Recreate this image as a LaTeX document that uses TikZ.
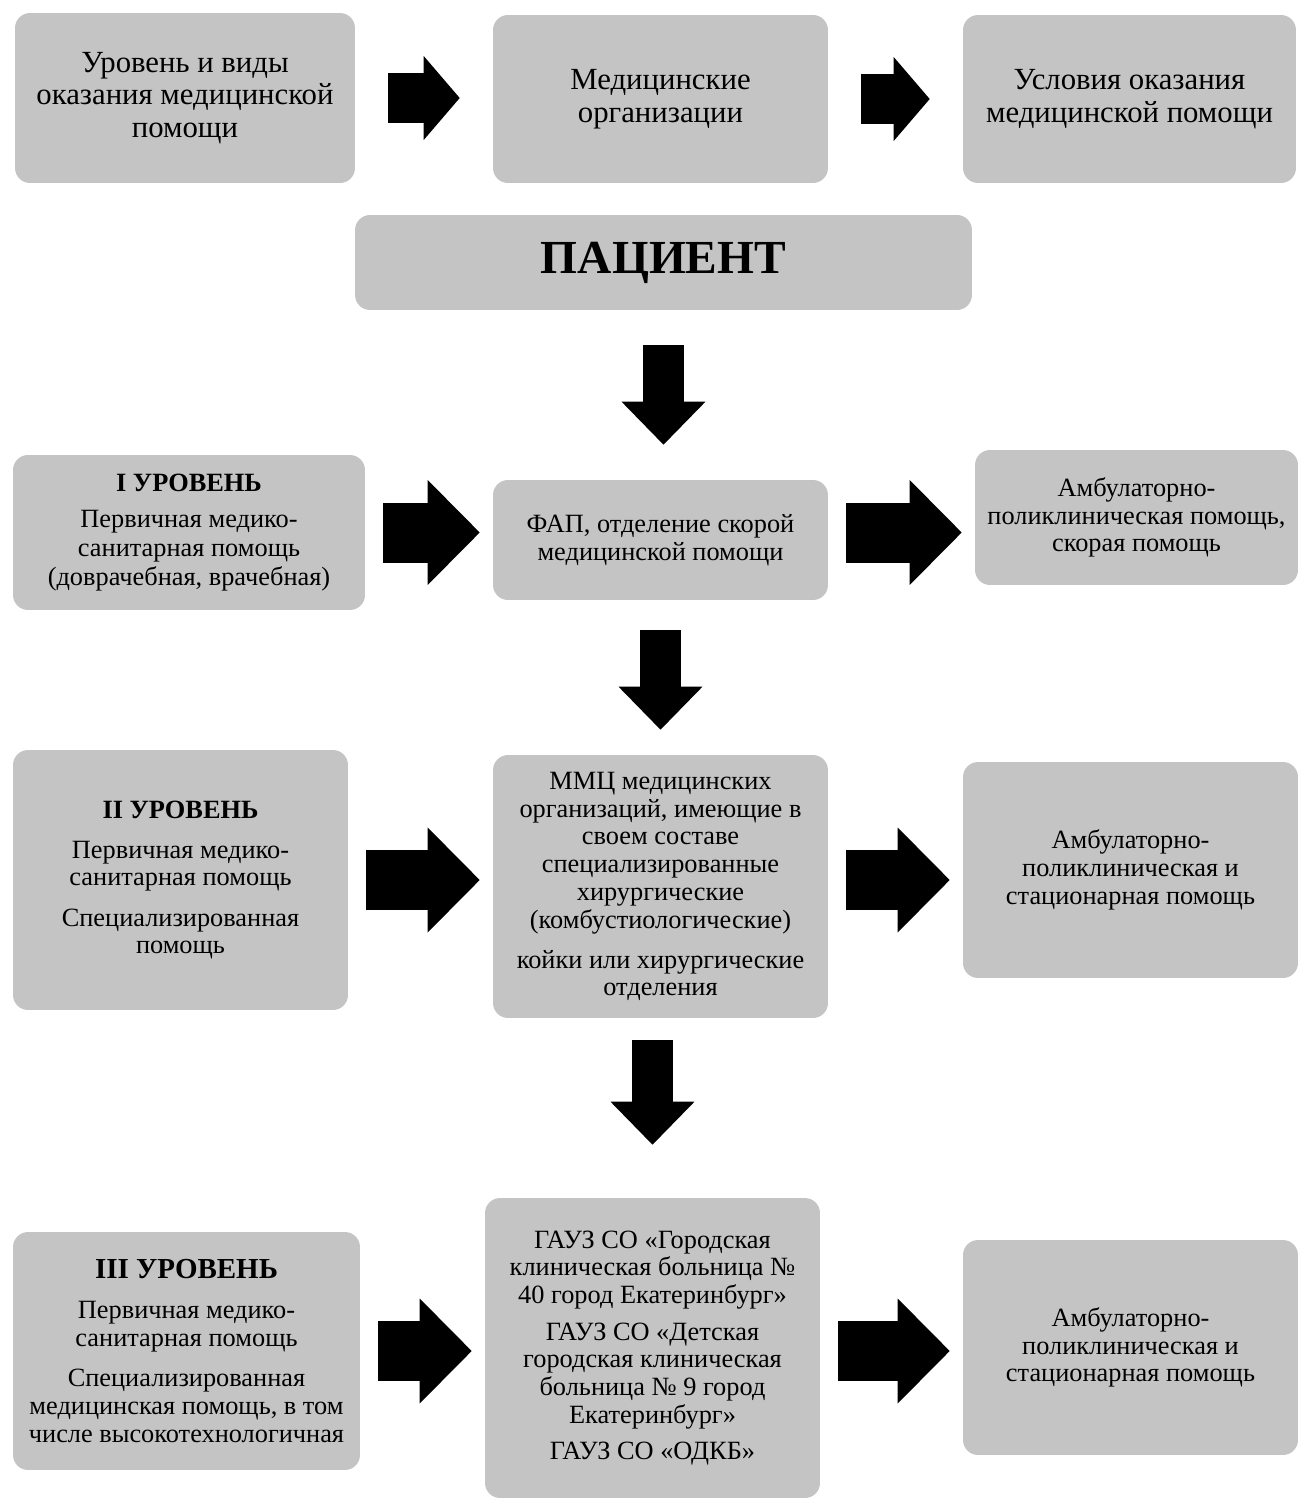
\documentclass[tikz,border=0pt]{standalone}
\usepackage{fontspec}
\setmainfont{Liberation Serif}
\usetikzlibrary{arrows.meta, calc, positioning}
\definecolor{boxgray}{RGB}{196,196,196}

\begin{document}
\begin{tikzpicture}[x=0.02cm, y=-0.02cm,
box/.style={rectangle, rounded corners=0.3cm, fill=boxgray, align=center, inner sep=0pt, font=\fontsize{15}{15.8}\selectfont},
hdr/.style={box, font=\fontsize{17.5}{18.5}\selectfont},
flowtop/.style={line width=1cm, -{Triangle[length=0.72cm, width=1.68cm, line width=0pt]}, shorten <=0.66cm, shorten >=0.66cm},
flowrow/.style={line width=1.2cm, -{Triangle[length=1.04cm, width=2.1cm, line width=0pt]}, shorten <=0.36cm, shorten >=0.26cm},
flowdown/.style={line width=0.82cm, -{Triangle[length=0.86cm, width=1.68cm, line width=0pt]}, shorten <=0.7cm, shorten >=0.7cm}]

\useasboundingbox (0, 0) rectangle (1298, 1498);

\node[hdr, minimum width=6.8cm, minimum height=3.4cm]
(lvl) at (185, 98)
{Уровень и виды\\оказания медицинской\\помощи};

\node[hdr, minimum width=6.7cm, minimum height=3.36cm]
(org) at (660.5, 99)
{Медицинские\\организации};

\node[hdr, minimum width=6.66cm, minimum height=3.36cm]
(cond) at (1129.5, 99)
{Условия оказания\\медицинской помощи};

\node[box, minimum width=12.34cm, minimum height=1.9cm, font=\fontsize{27}{30}\selectfont\bfseries]
(pat) at (663.5, 262.5)
{ПАЦИЕНТ};

\node[box, minimum width=7.04cm, minimum height=3.1cm, font=\fontsize{15}{16.5}\selectfont]
(lvlA) at (189, 532.5)
{\textbf{I УРОВЕНЬ}\\[4pt]Первичная медико-\\санитарная помощь\\(доврачебная, врачебная)};

\node[box, minimum width=6.7cm, minimum height=2.4cm]
(fap) at (660.5, 540)
{ФАП, отделение скорой\\медицинской помощи};

\node[box, minimum width=6.46cm, minimum height=2.7cm]
(ambA) at (1136.5, 517.5)
{Амбулаторно-\\поликлиническая помощь,\\скорая помощь};

\node[box, minimum width=6.7cm, minimum height=5.2cm]
(lvlB) at (180.5, 880)
{\textbf{II УРОВЕНЬ}\\[7pt]Первичная медико-\\санитарная помощь\\[7pt]Специализированная\\помощь};

\node[box, minimum width=6.7cm, minimum height=5.26cm]
(mmc) at (660.5, 886.5)
{ММЦ медицинских\\организаций, имеющие в\\своем составе\\специализированные\\хирургические\\(комбустиологические)\\[7pt]койки или хирургические\\отделения};

\node[box, minimum width=6.7cm, minimum height=4.32cm]
(ambB) at (1130.5, 870)
{Амбулаторно-\\поликлиническая и\\стационарная помощь};

\node[box, minimum width=6.94cm, minimum height=4.76cm]
(lvlC) at (186.5, 1351)
{{\fontsize{16.5}{18}\selectfont\bfseries III УРОВЕНЬ}\\[7pt]Первичная медико-\\санитарная помощь\\[7pt]Специализированная\\медицинская помощь, в том\\числе высокотехнологичная};

\node[box, minimum width=6.7cm, minimum height=6cm]
(hosp) at (652.5, 1348)
{ГАУЗ СО «Городская\\клиническая больница №\\40 город Екатеринбург»\\[5pt]ГАУЗ СО «Детская\\городская клиническая\\больница № 9 город\\Екатеринбург»\\[5pt]ГАУЗ СО «ОДКБ»};

\node[box, minimum width=6.7cm, minimum height=4.3cm]
(ambC) at (1130.5, 1347.5)
{Амбулаторно-\\поликлиническая и\\стационарная помощь};

\draw[flowtop] (lvl.east) -- (lvl.east -| org.west);
\draw[flowtop] (org.east) -- (org.east -| cond.west);
\draw[flowdown] (pat.south) -- (pat.south |- fap.north);
\draw[flowrow] (lvlA.east) -- (lvlA.east -| fap.west);
\draw[flowrow] (fap.east |- lvlA) -- (lvlA -| ambA.west);
\draw[flowdown, shorten <=0.6cm, shorten >=0.5cm] (fap.south) -- (mmc.north);
\draw[flowrow] (lvlB.east) -- (lvlB.east -| mmc.west);
\draw[flowrow] (mmc.east |- lvlB) -- (lvlB -| ambB.west);
\draw[flowdown, shorten <=0.44cm, shorten >=1.06cm] (mmc.south -| hosp) -- (hosp.north);
\draw[flowrow] (lvlC.east) -- (lvlC.east -| hosp.west);
\draw[flowrow] (hosp.east |- lvlC) -- (lvlC -| ambC.west);

\end{tikzpicture}
\end{document}
